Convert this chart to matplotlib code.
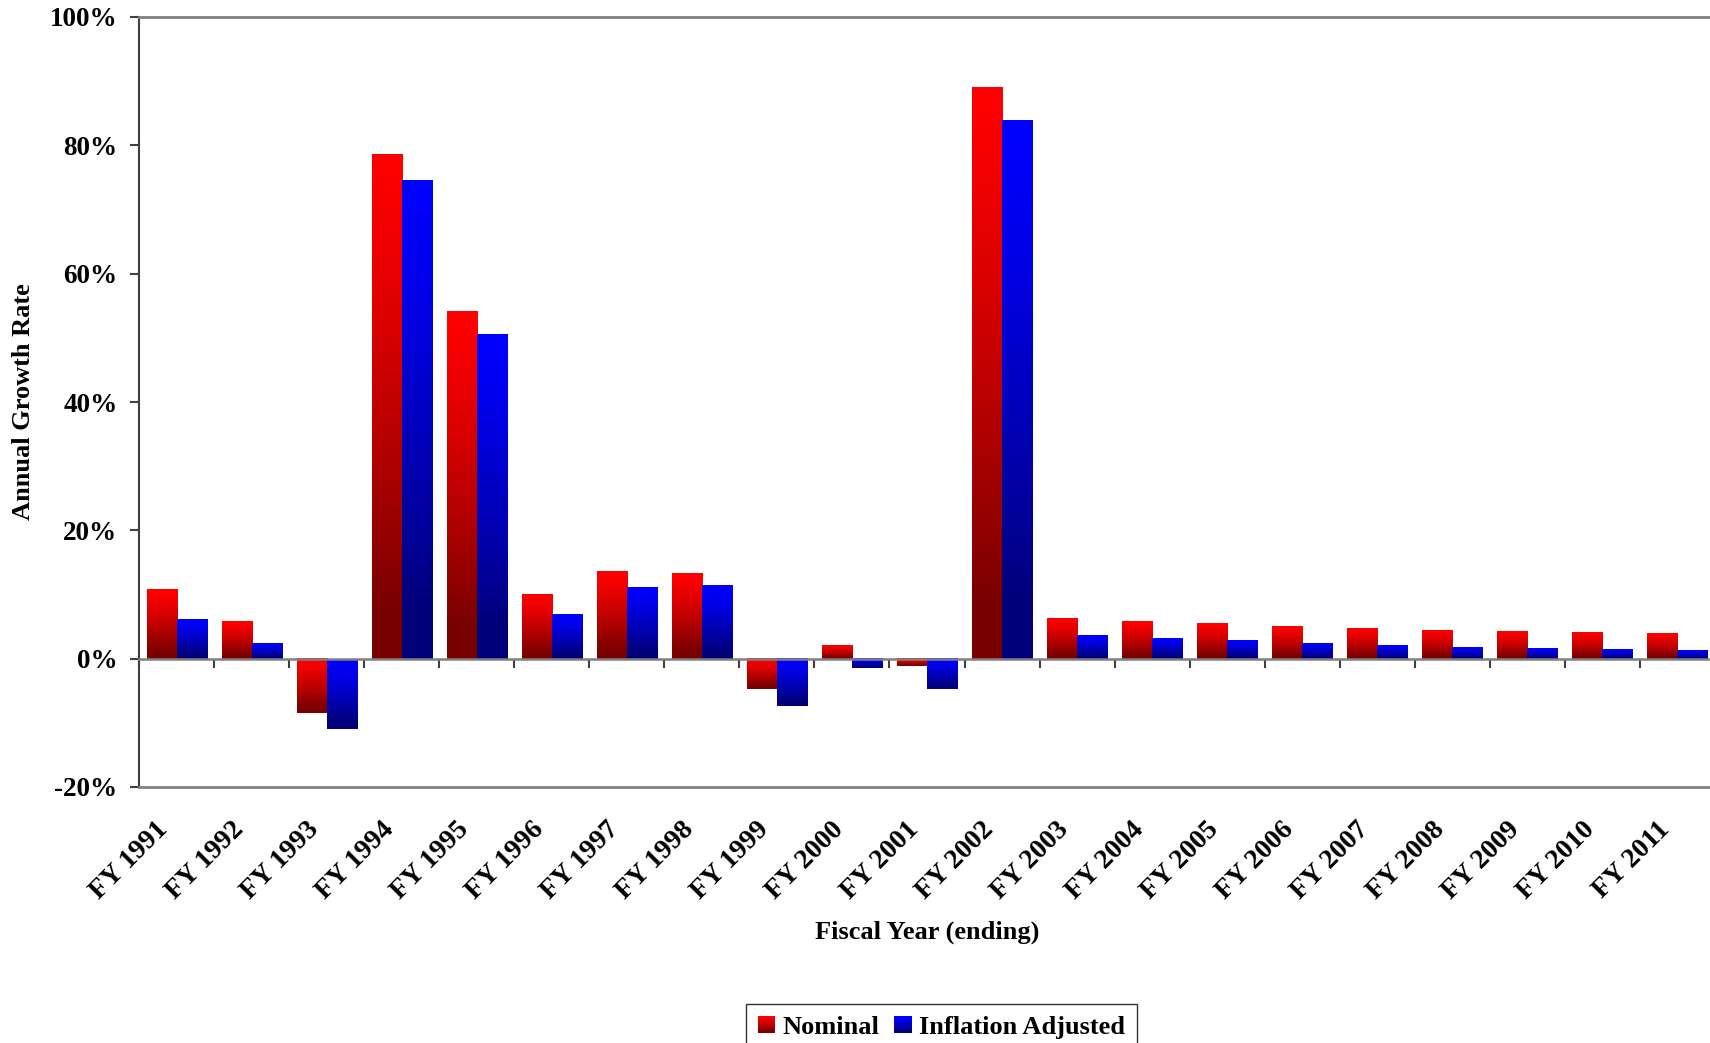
import numpy as np
from matplotlib import pyplot as plt
from matplotlib.patches import Rectangle
from matplotlib.legend_handler import HandlerBase
import matplotlib.transforms as mtransforms

# data (annual growth, %)
years = ['FY %d' % y for y in range(1991, 2012)]
nominal = [10.8, 5.8, -8.5, 78.6, 54.2, 10.0, 13.7, 13.4, -4.7, 2.1, -1.1,
           89.1, 6.3, 5.9, 5.5, 5.1, 4.8, 4.5, 4.3, 4.1, 4.0]
adjusted = [6.1, 2.4, -10.9, 74.6, 50.5, 7.0, 11.1, 11.4, -7.4, -1.5, -4.7,
            84.0, 3.7, 3.2, 2.9, 2.4, 2.1, 1.8, 1.6, 1.5, 1.3]
series_names = ['Nominal', 'Inflation Adjusted']
y_ticks = [-20, 0, 20, 40, 60, 80, 100]

plt.rcParams['font.family'] = ['Liberation Serif', 'DejaVu Serif']
plt.rcParams['font.weight'] = 'bold'
plt.rcParams['axes.labelweight'] = 'bold'

RED = (np.array([255, 0, 0]) / 255, np.array([122, 0, 0]) / 255)
BLUE = (np.array([0, 0, 255]) / 255, np.array([0, 0, 122]) / 255)
AXIS_GRAY = '#808080'
DARK = '#404040'


def shade(top, bottom, n=256):
    t = np.clip(np.linspace(0, 1, n) / 0.9, 0, 1) ** 1.3
    return (top[None, :] * (1 - t[:, None]) + bottom[None, :] * t[:, None])[:, None, :]


def gradient_bars(ax, bars, colors):
    img = shade(*colors)
    for b in bars:
        x0, y0, w, h = b.get_x(), b.get_y(), b.get_width(), b.get_height()
        lo, hi = min(y0, y0 + h), max(y0, y0 + h)
        ax.imshow(img, extent=[x0, x0 + w, lo, hi], origin='upper',
                  aspect='auto', interpolation='bilinear', zorder=2)


class GradientHandler(HandlerBase):
    def __init__(self, colors):
        super().__init__()
        self.colors = colors

    def create_artists(self, legend, orig_handle, xdescent, ydescent,
                       width, height, fontsize, trans):
        n = 16
        img = shade(*self.colors, n=n)[:, 0, :]
        arts = []
        for i in range(n):
            r = Rectangle((-xdescent, -ydescent + height * (1 - (i + 1) / n)),
                          width, height / n * 1.05, facecolor=img[i],
                          edgecolor='none', lw=0, transform=trans)
            arts.append(r)
        return arts


x = np.arange(len(years))
fig = plt.figure(figsize=(17.1, 10.43), dpi=100)
ax = fig.add_axes([139 / 1710, 1 - 787 / 1043, 1576 / 1710, 770 / 1043])

b1 = ax.bar(x - 0.2, nominal, 0.4, color='none', lw=0, label=series_names[0])
b2 = ax.bar(x + 0.2, adjusted, 0.4, color='none', lw=0, label=series_names[1])
gradient_bars(ax, b1, RED)
gradient_bars(ax, b2, BLUE)

ax.set_xlim(-0.5, 20.5)
ax.set_ylim(-20, 100)

ax.set_yticks(y_ticks)
ax.set_yticklabels(['%d%%' % v for v in y_ticks], fontsize=19.5)
ax.tick_params(axis='y', length=6.5, width=1.5, color=DARK, pad=9)

ax.set_xticks(x)
ax.set_xticklabels(years, rotation=45, ha='right', va='center',
                   rotation_mode='anchor', fontsize=20)
ax.tick_params(axis='x', length=0, pad=28)
shift = mtransforms.ScaledTranslation(-12 / 100, 0, fig.dpi_scale_trans)
for lbl in ax.get_xticklabels():
    lbl.set_transform(lbl.get_transform() + shift)

for side in ['top', 'bottom']:
    ax.spines[side].set_color(AXIS_GRAY)
    ax.spines[side].set_linewidth(2)
ax.spines['left'].set_color(DARK)
ax.spines['left'].set_linewidth(1.5)
ax.spines['right'].set_visible(False)

# category axis crossing at zero, tick marks between categories
zero = ax.secondary_xaxis((0 - (-20)) / 120)
zero.set_xticks(np.arange(-0.5, 21, 1))
zero.set_xticklabels([])
zero.tick_params(length=6.5, width=1.5, color=DARK, direction='out')
zero.spines['bottom'].set_color(AXIS_GRAY)
zero.spines['bottom'].set_linewidth(1.8)
zero.set_zorder(3)

ax.set_ylabel('Annual Growth Rate', fontsize=19, va='center')
ax.yaxis.set_label_coords(-0.073, 0.5)
ax.set_xlabel('Fiscal Year (ending)', fontsize=19, va='center')
ax.xaxis.set_label_coords(0.5, -0.189)

leg = fig.legend([b1, b2], series_names, loc='upper center',
                 bbox_to_anchor=(941.5 / 1710, 1 - 1004 / 1043), ncol=2,
                 fontsize=19, frameon=True, fancybox=False, edgecolor='black',
                 handlelength=0.65, handleheight=0.6, handletextpad=0.27,
                 columnspacing=0.57, borderpad=0.45, borderaxespad=0,
                 handler_map={b1: GradientHandler(RED), b2: GradientHandler(BLUE)})
leg.get_frame().set_linewidth(1)

plt.savefig('out.png', dpi=100)
